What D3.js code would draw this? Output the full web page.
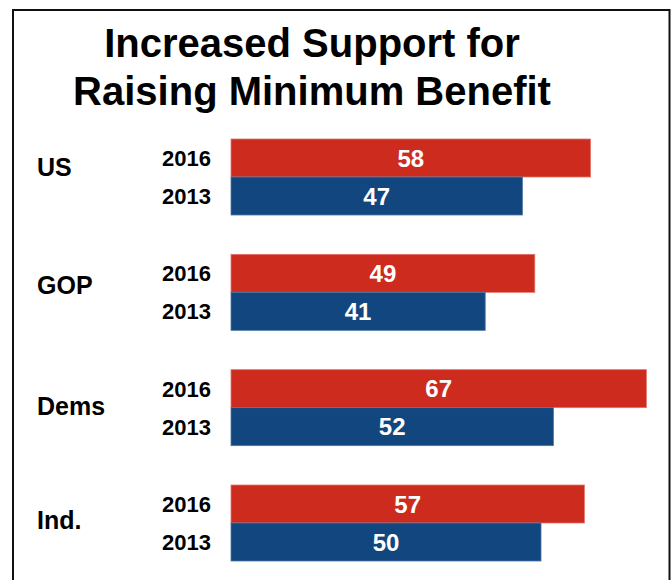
<!DOCTYPE html>
<html>
<head>
<meta charset="utf-8">
<script src="https://cdn.jsdelivr.net/npm/d3@7"></script>
<style>
  html, body { margin: 0; padding: 0; background: #fff; }
  svg { display: block; font-family: "Liberation Sans", Arial, sans-serif; }
</style>
</head>
<body>
<svg id="chart" width="672" height="580"></svg>
<script>
// Survey groups and the share supporting a higher minimum benefit
const groups = ["US", "GOP", "Dems", "Ind."];
const years = ["2016", "2013"];
const values2016 = [58, 49, 67, 57];
const values2013 = [47, 41, 52, 50];
const titleLines = ["Increased Support for", "Raising Minimum Benefit"];

const colors = { "2016": "#CD2B1E", "2013": "#12467E" };
const strokes = { "2016": "#E2766D", "2013": "#4F77A4" };

// Vertical nudge of each group label relative to its band centre
const labelShift = { "US": -10.5, "GOP": -7, "Dems": -2, "Ind.": -2.5 };

const svg = d3.select("#chart");

// Frame around the chart
svg.append("rect")
  .attr("x", 13).attr("y", 10)
  .attr("width", 656.5).attr("height", 600)
  .attr("fill", "none")
  .attr("stroke", "#111")
  .attr("stroke-width", 2);

// Title
svg.append("g").selectAll("text")
  .data(titleLines)
  .join("text")
  .attr("x", 312)
  .attr("y", (d, i) => 57 + i * 48)
  .attr("text-anchor", "middle")
  .attr("font-size", 40)
  .attr("font-weight", "bold")
  .attr("fill", "#000")
  .text(d => d);

// Scales
const x = d3.scaleLinear().domain([0, 100]).range([231, 851]);
const y = d3.scaleBand().domain(groups).range([139, 561]).paddingInner(0.341).paddingOuter(0);
const yInner = d3.scaleBand().domain(years).range([0, y.bandwidth()]);

const rows = groups.map((g, i) => ({
  group: g,
  bars: [
    { year: "2016", value: values2016[i] },
    { year: "2013", value: values2013[i] }
  ]
}));

const groupSel = svg.append("g").selectAll("g")
  .data(rows)
  .join("g")
  .attr("transform", d => `translate(0,${y(d.group)})`);

// Group labels
groupSel.append("text")
  .attr("x", 37)
  .attr("y", d => y.bandwidth() / 2 + labelShift[d.group])
  .attr("dy", "0.36em")
  .attr("font-size", 25)
  .attr("font-weight", "bold")
  .attr("fill", "#000")
  .text(d => d.group);

// Year labels
groupSel.selectAll("text.year")
  .data(d => d.bars)
  .join("text")
  .attr("class", "year")
  .attr("x", 211)
  .attr("y", d => yInner(d.year) + yInner.bandwidth() / 2)
  .attr("dy", "0.36em")
  .attr("text-anchor", "end")
  .attr("font-size", 22)
  .attr("font-weight", "bold")
  .attr("fill", "#000")
  .text(d => d.year);

// Bars
groupSel.selectAll("rect")
  .data(d => d.bars)
  .join("rect")
  .attr("x", x(0))
  .attr("y", d => yInner(d.year))
  .attr("width", d => x(d.value) - x(0))
  .attr("height", yInner.bandwidth())
  .attr("fill", d => colors[d.year])
  .attr("stroke", d => strokes[d.year])
  .attr("stroke-width", 0.8);

// Value labels centred in each bar
groupSel.selectAll("text.val")
  .data(d => d.bars)
  .join("text")
  .attr("class", "val")
  .attr("x", d => (x(0) + x(d.value)) / 2)
  .attr("y", d => yInner(d.year) + yInner.bandwidth() / 2)
  .attr("dy", "0.36em")
  .attr("text-anchor", "middle")
  .attr("font-size", 24)
  .attr("font-weight", "bold")
  .attr("fill", "#fff")
  .text(d => d.value);
</script>
</body>
</html>
